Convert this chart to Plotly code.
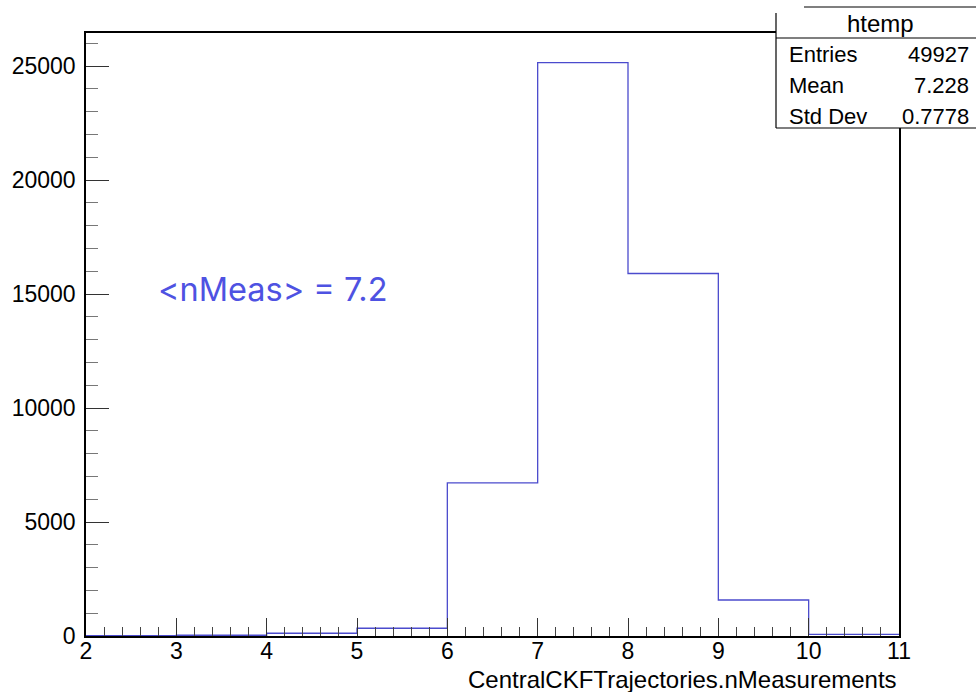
import plotly.graph_objects as go

# Histogram of CentralCKFTrajectories.nMeasurements (unit-width bins from 2 to 11)
bin_edges = [2, 3, 4, 5, 6, 7, 8, 9, 10, 11]
counts = [10, 33, 120, 340, 6720, 25150, 15900, 1579, 75]

# Statistics box contents
hist_name = "htemp"
stat_labels = ["Entries", "Mean", "Std Dev"]
stat_values = ["49927", "7.228", "0.7778"]

# Annotation text
mean_label = "<nMeas> = 7.2"

x_ticks = list(range(2, 12))
y_ticks = [0, 5000, 10000, 15000, 20000, 25000]

W, H = 976, 692
L, R, T, B = 86, 899, 33, 636  # plot area in pixels


def px(xp):
    return (xp - L) / (R - L)


def py(yp):
    return (B - yp) / (B - T)


fig = go.Figure()
fig.add_trace(go.Scatter(
    x=bin_edges,
    y=counts + [counts[-1]],
    mode="lines",
    line=dict(shape="hv", color="rgb(75,75,205)", width=1.3),
    hoverinfo="skip",
    showlegend=False,
))

axis_font = dict(family="Liberation Sans, Arial, sans-serif", size=23, color="black")

fig.update_xaxes(
    range=[2, 11],
    tickvals=x_ticks,
    ticktext=[str(v) for v in x_ticks],
    ticks="inside",
    ticklen=18,
    tickcolor="#333",
    tickwidth=1,
    minor=dict(ticks="inside", ticklen=9, dtick=0.2, tick0=2, tickcolor="#444", tickwidth=1),
    showline=True,
    linecolor="black",
    linewidth=1.5,
    mirror=True,
    showgrid=False,
    zeroline=False,
    tickfont=axis_font,
    ticklabelstandoff=-6,
)
fig.update_yaxes(
    range=[0, 26450],
    tickvals=y_ticks,
    ticktext=[str(v) for v in y_ticks],
    ticks="inside",
    ticklen=23,
    tickcolor="#333",
    tickwidth=1,
    minor=dict(ticks="inside", ticklen=12, dtick=1000, tick0=0, tickcolor="#777", tickwidth=1),
    showline=True,
    linecolor="black",
    linewidth=1.5,
    mirror=True,
    showgrid=False,
    zeroline=False,
    tickfont=axis_font,
    ticklabelstandoff=4,
)

# Axis title, right aligned under the x axis
annotations = [
    dict(
        x=1.0, y=py(679), xref="paper", yref="paper",
        text="CentralCKFTrajectories.nMeasurements",
        showarrow=False, xanchor="right", yanchor="middle",
        font=dict(family="Liberation Sans, Arial, sans-serif", size=24, color="black"),
    ),
    dict(
        x=2.775, y=15200, xref="x", yref="y",
        text=mean_label.replace("<", "&lt;").replace(">", "&gt;"),
        showarrow=False, xanchor="left", yanchor="middle",
        font=dict(family="Inter, Noto Sans, sans-serif", size=32.5, color="rgb(78,82,226)"),
    ),
]

# Statistics box
box_font = dict(family="Liberation Sans, Arial, sans-serif", size=22, color="black")
shapes = [
    dict(type="rect", xref="paper", yref="paper", x0=px(776), x1=px(980), y0=py(128), y1=py(7),
         fillcolor="white", line=dict(width=0), layer="above"),
    dict(type="line", xref="paper", yref="paper", x0=px(776), x1=px(776), y0=py(128), y1=py(13),
         line=dict(color="black", width=1.2), layer="above"),
    dict(type="line", xref="paper", yref="paper", x0=px(776), x1=px(980), y0=py(128), y1=py(128),
         line=dict(color="black", width=1.2), layer="above"),
    dict(type="line", xref="paper", yref="paper", x0=px(776), x1=px(980), y0=py(38), y1=py(38),
         line=dict(color="black", width=1.2), layer="above"),
    dict(type="line", xref="paper", yref="paper", x0=px(804), x1=px(980), y0=py(7), y1=py(7),
         line=dict(color="black", width=1.2), layer="above"),
]

annotations.append(dict(
    x=px(880), y=py(23), xref="paper", yref="paper", text=hist_name,
    showarrow=False, xanchor="center", yanchor="middle",
    font=dict(family="Liberation Sans, Arial, sans-serif", size=24, color="black"),
))
row_y = [55, 85, 116]
for lab, val, yy in zip(stat_labels, stat_values, row_y):
    annotations.append(dict(
        x=px(787), y=py(yy), xref="paper", yref="paper", text=lab,
        showarrow=False, xanchor="left", yanchor="middle", font=box_font,
    ))
    annotations.append(dict(
        x=px(971), y=py(yy), xref="paper", yref="paper", text=val,
        showarrow=False, xanchor="right", yanchor="middle", font=box_font,
    ))

fig.update_layout(
    width=W, height=H,
    margin=dict(l=L, r=W - R, t=T, b=H - B),
    paper_bgcolor="white",
    plot_bgcolor="white",
    shapes=shapes,
    annotations=annotations,
    showlegend=False,
)

fig.write_html("out.html")
